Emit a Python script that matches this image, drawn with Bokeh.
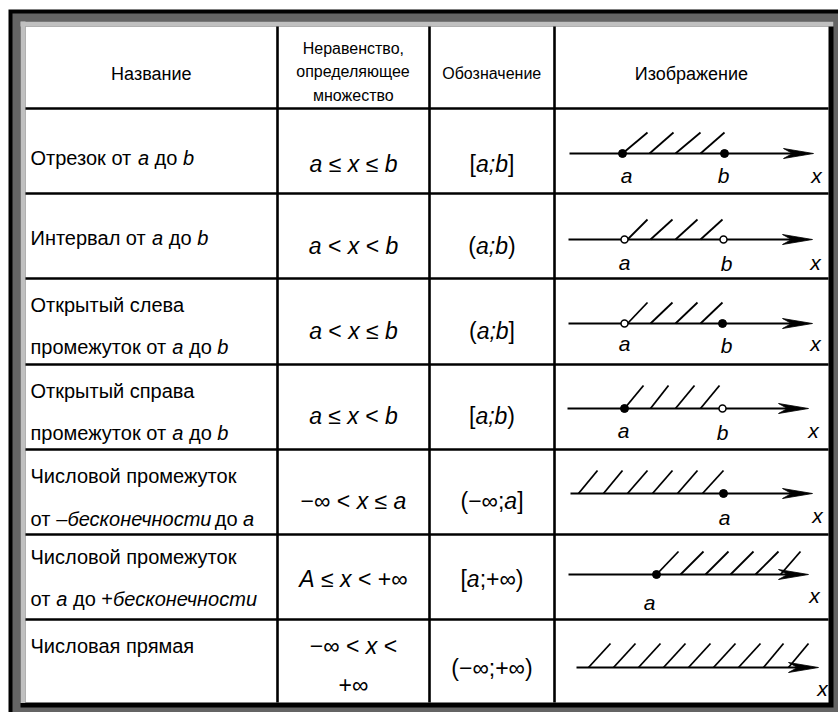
from bokeh.plotting import figure
from bokeh.models import ColumnDataSource, Range1d
from bokeh.core.properties import value
from bokeh.embed import file_html
from bokeh.resources import INLINE

FONT = "Liberation Sans"

# ---------------- table content ----------------
col_edges = [25, 277, 429, 554, 828]
row_edges = [26, 108, 193, 278, 364, 449, 534, 619, 702]

header_lines = [["Название"], ["Неравенство,", "определяющее", "множество"],
                ["Обозначение"], ["Изображение"]]
header_sizes = [18, 16, 16, 18]
header_baselines = [[73], [48, 71, 95], [73], [73]]

names = [
    ["Отрезок от *a* до *b*"],
    ["Интервал от *a* до *b*"],
    ["Открытый слева", "промежуток от *a* до *b*"],
    ["Открытый справа", "промежуток от *a* до *b*"],
    ["Числовой промежуток", "от *–бесконечности* до *a*"],
    ["Числовой промежуток", "от *a* до +*бесконечности*"],
    ["Числовая прямая"],
]
name_baselines = [[157], [237], [304, 346], [390, 432], [475, 518], [556, 598], [645]]

inequalities = [["*a* ≤ *x* ≤ *b*"], ["*a* < *x* < *b*"], ["*a* < *x* ≤ *b*"],
                ["*a* ≤ *x* < *b*"], ["−∞ < *x* ≤ *a*"], ["*A* ≤ *x* < +∞"],
                ["−∞ < *x* <", "+∞"]]
ineq_baselines = [[163], [245], [330], [415], [500], [578], [645, 684]]

notations = ["[*a;b*]", "(*a;b*)", "(*a;b*]", "[*a;b*)", "(−∞;*a*]", "[*a*;+∞)", "(−∞;+∞)"]
notation_baselines = [163, 245, 330, 415, 500, 578, 667]

# ---------------- number-line pictures ----------------
axis_y = [153, 239, 323, 408, 493, 574, 667]
axis_start = [569, 568, 568, 567, 570, 568, 576]
axis_tip = [813, 812, 812, 808, 812, 808, 818]

pt_row = [0, 0, 1, 1, 2, 2, 3, 3, 4, 5]
pt_x = [622, 724, 624, 723, 624, 722, 624, 722, 723, 656]
pt_filled = [1, 1, 0, 0, 0, 1, 1, 0, 1, 1]

hatch_bottom = [
    [622, 649, 675, 700],
    [627, 650, 675, 700],
    [627, 650, 675, 700],
    [624, 650, 675, 700],
    [578, 603, 627, 652, 677, 702],
    [656, 680, 705, 730, 755, 780],
    [588, 613, 638, 663, 688, 713, 738, 763, 788],
]
hatch_top = [
    [647, 673, 700, 724],
    [647, 672, 697, 722],
    [647, 672, 697, 722],
    [643, 668, 694, 719],
    [597, 622, 647, 672, 697, 723],
    [678, 703, 728, 753, 778, 800],
    [610, 635, 660, 685, 710, 735, 760, 783, 808],
]
hatch_top_y = [132, 219, 302, 385, 470, 551, 643]

label_text = ["a", "b", "x", "a", "b", "x", "a", "b", "x", "a", "b", "x", "a", "x", "a", "x", "x"]
label_x = [626, 723, 816, 624, 726, 815, 624, 726, 815, 623, 722, 813, 724, 817, 649, 814, 822]
label_y = [175, 175, 175, 262, 263, 262, 343, 345, 343, 430, 432, 430, 517, 515, 602, 595, 688]

# ---------------- font metrics (Arial / Liberation Sans, per 1000 em) ----------------
REG = {' ': 278, 'a': 556, 'b': 556, 'x': 500, 'A': 667, '<': 584, '≤': 549, '∞': 713,
       '−': 584, '+': 584, '(': 333, ')': 333, '[': 278, ']': 278, ';': 278, ',': 278,
       '–': 556,
       'Н': 722, 'О': 778, 'И': 719, 'Ч': 667, 'Р': 667,
       'а': 556, 'б': 573, 'в': 531, 'г': 365, 'д': 583, 'е': 556, 'ж': 669, 'з': 458,
       'и': 559, 'й': 559, 'к': 438, 'л': 583, 'м': 688, 'н': 552, 'о': 556, 'п': 542,
       'р': 556, 'с': 500, 'т': 458, 'у': 500, 'ф': 823, 'х': 500, 'ц': 573, 'ч': 521,
       'ш': 802, 'щ': 823, 'ъ': 625, 'ы': 719, 'ь': 521, 'э': 510, 'ю': 750, 'я': 542}
ITA = {'т': 600, 'и': 556, 'к': 500, 'н': 556}


def width(txt, size, italic=False):
    em = 0
    for c in txt:
        if italic and c in ITA:
            em += ITA[c]
        else:
            em += REG.get(c, 556)
    return em / 1000.0 * size


def runs(marked):
    parts = marked.split("*")
    return [(t, i % 2 == 1) for i, t in enumerate(parts) if t]


seg = dict(x=[], y=[], text=[], style=[], size=[])


def place(marked, y, size, left=None, center=None):
    rr = runs(marked)
    total = sum(width(t, size, it) for t, it in rr)
    x = left if left is not None else center - total / 2.0
    for t, it in rr:
        lead = len(t) - len(t.lstrip(" "))
        core = t.strip(" ")
        if core:
            seg["x"].append(x + width(" " * lead, size))
            seg["y"].append(y)
            seg["text"].append(core)
            seg["style"].append("italic" if it else "normal")
            seg["size"].append("%dpx" % size)
        x += width(t, size, it)


for c, (lines, sz, bls) in enumerate(zip(header_lines, header_sizes, header_baselines)):
    cx = (col_edges[c] + col_edges[c + 1]) / 2.0
    for ln, bl in zip(lines, bls):
        place(ln, bl, sz, center=cx)

for lines, bls in zip(names, name_baselines):
    for ln, bl in zip(lines, bls):
        place(ln, bl, 20, left=30)

cx2 = (col_edges[1] + col_edges[2]) / 2.0
for lines, bls in zip(inequalities, ineq_baselines):
    for ln, bl in zip(lines, bls):
        place(ln, bl, 23, center=cx2)

cx3 = (col_edges[2] + col_edges[3]) / 2.0
for ln, bl in zip(notations, notation_baselines):
    place(ln, bl, 23, center=cx3)

# ---------------- figure ----------------
p = figure(width=838, height=712, x_range=Range1d(0, 838), y_range=Range1d(712, 0),
           output_backend="svg", toolbar_location=None, min_border=0)
p.axis.visible = False
p.grid.visible = False
p.outline_line_color = None
p.background_fill_color = "white"
p.border_fill_color = "white"

# bevelled frame
p.quad(left=[8], right=[838], top=[9], bottom=[712], fill_color="black", line_color=None)
p.quad(left=[12], right=[838], top=[13], bottom=[712], fill_color="#646464", line_color=None)
p.quad(left=[20], right=[833], top=[21], bottom=[707], fill_color="black", line_color=None)
p.quad(left=[20, 20], right=[833, 25], top=[21, 21], bottom=[26, 702.5],
       fill_color="#c0c0c0", line_color=None)
p.quad(left=[25], right=[828], top=[26], bottom=[702], fill_color="white", line_color=None)

# grid lines
inner_rows = row_edges[1:-1]
p.segment(x0=[col_edges[0]] * len(inner_rows), y0=inner_rows,
          x1=[col_edges[-1]] * len(inner_rows), y1=inner_rows,
          line_color="black", line_width=2.6)
inner_cols = col_edges[1:-1]
p.segment(x0=inner_cols, y0=[row_edges[0]] * len(inner_cols),
          x1=inner_cols, y1=[row_edges[-1]] * len(inner_cols),
          line_color="black", line_width=2.6)

# number lines
p.segment(x0=axis_start, y0=axis_y, x1=[t - 18 for t in axis_tip], y1=axis_y,
          line_color="black", line_width=1.8)
arr_xs = [[t, t - 30, t - 21, t - 30] for t in axis_tip]
arr_ys = [[y, y - 5, y, y + 5] for y in axis_y]
p.patches(xs=arr_xs, ys=arr_ys, fill_color="black", line_color="black", line_width=0.8)

hx0, hy0, hx1, hy1 = [], [], [], []
for r in range(len(axis_y)):
    for b, t in zip(hatch_bottom[r], hatch_top[r]):
        hx0.append(b)
        hy0.append(axis_y[r])
        hx1.append(t)
        hy1.append(hatch_top_y[r])
p.segment(x0=hx0, y0=hy0, x1=hx1, y1=hy1, line_color="black", line_width=1.8)

fx = [x for x, f in zip(pt_x, pt_filled) if f]
fy = [axis_y[r] for r, f in zip(pt_row, pt_filled) if f]
ox = [x for x, f in zip(pt_x, pt_filled) if not f]
oy = [axis_y[r] for r, f in zip(pt_row, pt_filled) if not f]
p.scatter(x=fx, y=fy, size=8, fill_color="black", line_color="black")
p.scatter(x=ox, y=oy, size=7, fill_color="white", line_color="black", line_width=1.5)

p.text(x=label_x, y=label_y, text=label_text, text_font=value(FONT),
       text_font_size="21px", text_font_style="italic", text_align="center",
       text_baseline="alphabetic", text_color="black")

src = ColumnDataSource(seg)
p.text(x="x", y="y", text="text", source=src, text_font=value(FONT),
       text_font_size="size", text_font_style="style", text_align="left",
       text_baseline="alphabetic", text_color="black")

open("out.html", "w").write(file_html(p, INLINE))
